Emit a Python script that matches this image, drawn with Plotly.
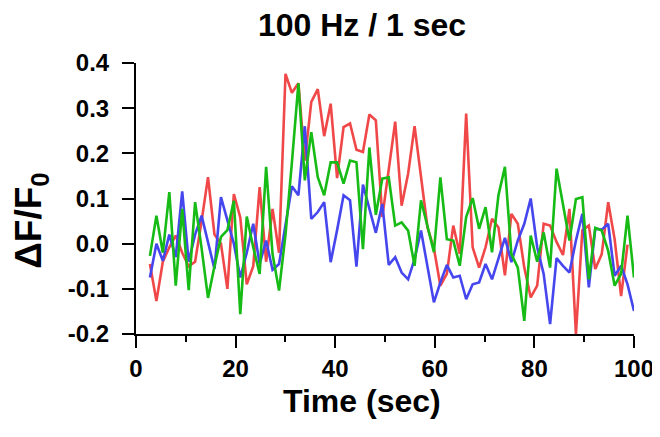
import plotly.graph_objects as go

time_sec = [2.80, 4.10, 5.39, 6.69, 7.98, 9.28, 10.58, 11.87, 13.17, 14.46,
            15.76, 17.06, 18.35, 19.65, 20.94, 22.24, 23.54, 24.83, 26.13, 27.42,
            28.72, 30.02, 31.31, 32.61, 33.90, 35.20, 36.50, 37.79, 39.09, 40.38,
            41.68, 42.98, 44.27, 45.57, 46.86, 48.16, 49.46, 50.75, 52.05, 53.34,
            54.64, 55.94, 57.23, 58.53, 59.82, 61.12, 62.42, 63.71, 65.01, 66.30,
            67.60, 68.90, 70.19, 71.49, 72.78, 74.08, 75.38, 76.67, 77.97, 79.26,
            80.56, 81.86, 83.15, 84.45, 85.74, 87.04, 88.34, 89.63, 90.93, 92.22,
            93.52, 94.82, 96.11, 97.41, 98.70, 100.00]

red_vals = [-0.045, -0.127, -0.04, -0.008, 0.018, -0.02, -0.05, -0.04, 0.05, 0.147,
            0.02, 0.0, -0.1, 0.11, 0.058, -0.09, -0.05, 0.125, -0.04, 0.077,
            -0.02, 0.376, 0.334, 0.355, 0.184, 0.314, 0.342, 0.238, 0.31, 0.145,
            0.258, 0.266, 0.208, 0.203, 0.286, 0.273, 0.059, 0.162, 0.27, 0.084,
            0.155, 0.26, 0.147, 0.036, -0.01, -0.093, -0.067, 0.04, -0.023, 0.288,
            -0.008, -0.053, -0.008, 0.055, 0.036, -0.07, 0.066, 0.044, -0.053, -0.119,
            -0.093, 0.044, 0.04, 0.004, -0.025, 0.077, -0.2, 0.03, 0.04, -0.056,
            -0.023, 0.092, 0.01, -0.116, -0.002]

green_vals = [-0.027, 0.062, -0.02, 0.114, -0.093, 0.077, -0.103, 0.092, -0.01, -0.12,
              -0.05, 0.015, 0.03, 0.095, -0.156, 0.06, -0.008, -0.067, 0.17, -0.023,
              -0.104, 0.02, 0.18, 0.355, 0.14, 0.247, 0.147, 0.107, 0.18, 0.18,
              0.133, 0.184, 0.18, -0.012, 0.213, 0.064, 0.144, 0.147, 0.04, 0.047,
              0.029, -0.049, 0.096, 0.036, -0.019, 0.147, 0.01, 0.007, -0.049, 0.059,
              0.101, 0.033, 0.081, -0.019, 0.107, 0.17, -0.023, -0.053, -0.171, 0.018,
              -0.04, 0.025, -0.053, 0.166, 0.088, 0.007, 0.099, 0.103, -0.079, 0.035,
              0.029, -0.016, -0.093, -0.067, 0.062, -0.075]

blue_vals = [-0.075, 0.0, -0.038, 0.02, -0.03, 0.116, -0.04, 0.02, 0.062, 0.0,
             -0.056, 0.103, 0.05, 0.0, -0.075, -0.02, 0.044, -0.045, 0.007, -0.058,
             -0.045, 0.044, 0.127, 0.107, 0.26, 0.055, 0.07, 0.092, -0.041, 0.03,
             0.107, 0.096, -0.051, 0.131, 0.077, 0.024, 0.088, -0.047, -0.03, -0.064,
             -0.079, -0.034, 0.029, -0.053, -0.13, -0.086, -0.047, -0.075, -0.071, -0.123,
             -0.09, -0.086, -0.045, -0.079, -0.034, 0.013, -0.041, 0.007, 0.044, 0.1,
             -0.008, -0.067, -0.178, -0.032, -0.049, -0.064, 0.007, 0.066, -0.097, 0.033,
             0.031, 0.044, -0.071, -0.049, -0.09, -0.149]

x_ticks = [0, 20, 40, 60, 80, 100]
y_ticks = [-0.2, -0.1, 0.0, 0.1, 0.2, 0.3, 0.4]

FONT = "Liberation Sans, Arial, Helvetica, sans-serif"
W, H = 652, 429

fig = go.Figure()
fig.add_trace(go.Scatter(x=time_sec[:len(red_vals)], y=red_vals, mode="lines",
                         line=dict(color="#f04848", width=2.6), name="red"))
fig.add_trace(go.Scatter(x=time_sec[:len(blue_vals)], y=blue_vals, mode="lines",
                         line=dict(color="#4646ee", width=2.6), name="blue"))
fig.add_trace(go.Scatter(x=time_sec[:len(green_vals)], y=green_vals, mode="lines",
                         line=dict(color="#16bb16", width=2.6), name="green"))

fig.update_layout(
    template="none",
    width=W, height=H,
    margin=dict(l=128, r=26, t=55, b=103, autoexpand=False),
    paper_bgcolor="white", plot_bgcolor="white",
    showlegend=False,
    font=dict(family=FONT, color="black"),
    title=dict(text="<b>100 Hz / 1 sec</b>", x=354/W, xref="container", xanchor="center",
               y=1-17/H, yref="container", yanchor="middle",
               font=dict(size=32, family=FONT, color="black")),
)

fig.update_xaxes(
    range=[0, 100], tickvals=x_ticks, ticktext=[f"<b>{v}</b>" for v in x_ticks],
    showgrid=False, zeroline=False, automargin=False,
    showline=True, linecolor="black", linewidth=2,
    ticks="outside", ticklen=12, tickwidth=2, tickcolor="black",
    tickfont=dict(size=24, family=FONT, color="black"),
    minor=dict(dtick=10, tick0=0, ticks="outside", ticklen=6, tickwidth=2, tickcolor="black", showgrid=False),
)
fig.update_yaxes(
    range=[-0.2, 0.4], tickvals=y_ticks, ticktext=[f"<b>{v:.1f}</b>" for v in y_ticks],
    showgrid=False, zeroline=False, automargin=False,
    showline=True, linecolor="black", linewidth=2,
    ticks="outside", ticklen=12, tickwidth=2, tickcolor="black",
    ticklabelstandoff=8,
    tickfont=dict(size=24, family=FONT, color="black"),
)

fig.add_annotation(text="<b>Time (sec)</b>", xref="paper", yref="paper",
                   x=(362-136)/498, y=(334-401)/270.5, xanchor="center", yanchor="middle",
                   showarrow=False, font=dict(size=32, family=FONT, color="black"))
fig.add_annotation(text="<b>ΔF/F<sub>0</sub></b>", xref="paper", yref="paper",
                   x=(31-136)/498, y=(334-221)/270.5, xanchor="center", yanchor="middle",
                   textangle=-90, showarrow=False, font=dict(size=37, family=FONT, color="black"))

fig.write_html("out.html")
